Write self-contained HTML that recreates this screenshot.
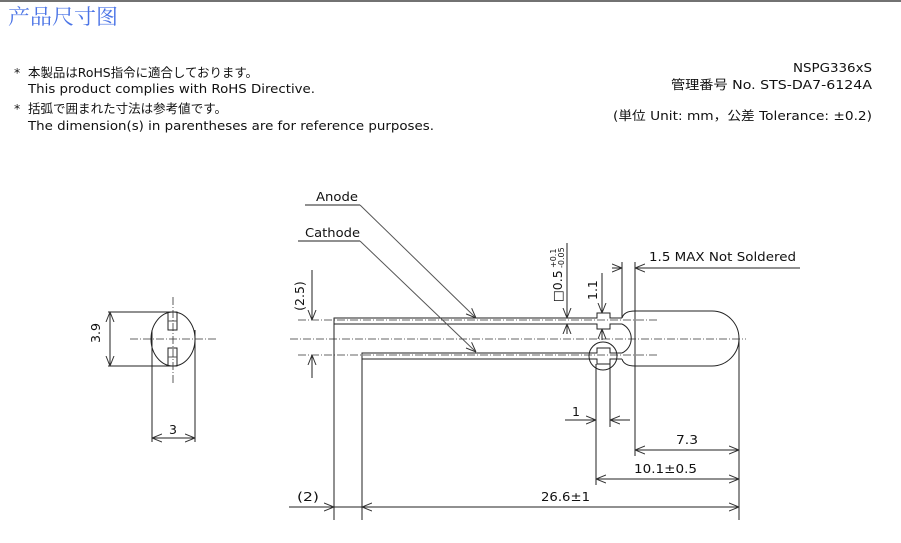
<!DOCTYPE html>
<html><head><meta charset="utf-8"><style>
html,body{margin:0;padding:0;background:#fff;}
svg{display:block;}
text{font-family:"DejaVu Sans","Noto Sans CJK JP",sans-serif;font-size:12.5px;fill:#111;}
.t{font-family:"Noto Serif CJK SC",serif;font-size:21px;fill:#4b74e6;}
.l{stroke:#222;stroke-width:1;fill:none;}
.g{stroke:#555;stroke-width:1;fill:none;}
.c{stroke:#333;stroke-width:0.8;fill:none;stroke-dasharray:8,2,1,2;}
</style></head><body>
<svg width="901" height="543" viewBox="0 0 901 543" xmlns="http://www.w3.org/2000/svg">
<defs>
<marker id="a" viewBox="0 0 10 10" refX="10" refY="5" markerWidth="10" markerHeight="10" orient="auto-start-reverse" markerUnits="userSpaceOnUse">
<path d="M0,1 L10,5 L0,9" fill="none" stroke="#333" stroke-width="1"/></marker>
</defs>
<line x1="0" y1="1" x2="901" y2="1" stroke="#444" stroke-width="1.5"/>
<text class="t" x="8" y="24" textLength="110" lengthAdjust="spacingAndGlyphs">产品尺寸图</text>
<text x="14" y="77">*</text><text x="28" y="77" textLength="230" lengthAdjust="spacingAndGlyphs">本製品はRoHS指令に適合しております。</text>
<text x="28" y="93" textLength="287" lengthAdjust="spacingAndGlyphs">This product complies with RoHS Directive.</text>
<text x="14" y="113">*</text><text x="28" y="113" textLength="199" lengthAdjust="spacingAndGlyphs">括弧で囲まれた寸法は参考値です。</text>
<text x="28" y="130" textLength="406" lengthAdjust="spacingAndGlyphs">The dimension(s) in parentheses are for reference purposes.</text>
<text x="793" y="72" textLength="79" lengthAdjust="spacingAndGlyphs">NSPG336xS</text>
<text x="671" y="89" textLength="201" lengthAdjust="spacingAndGlyphs">管理番号 No.   STS-DA7-6124A</text>
<text x="613" y="120" textLength="259" lengthAdjust="spacingAndGlyphs">(単位 Unit: mm，公差 Tolerance: ±0.2)</text>

<!-- left view -->
<ellipse class="l" cx="173" cy="339" rx="22" ry="27"/>
<rect class="l" x="168" y="312" width="9" height="18"/><line class="g" x1="168" y1="321" x2="177" y2="321"/>
<rect class="l" x="168" y="348" width="9" height="18"/><line class="g" x1="168" y1="357" x2="177" y2="357"/>
<line class="c" x1="173" y1="297" x2="173" y2="385"/>
<line class="c" x1="130" y1="339" x2="216" y2="339"/>
<line class="l" x1="108" y1="312" x2="173" y2="312"/>
<line class="l" x1="108" y1="366" x2="173" y2="366"/>
<line class="l" x1="110" y1="312" x2="110" y2="366" marker-start="url(#a)" marker-end="url(#a)"/>
<text x="106" y="339" transform="rotate(-90 100 339)" text-anchor="middle">3.9</text>
<line class="l" x1="152" y1="330" x2="152" y2="442"/>
<line class="l" x1="195" y1="330" x2="195" y2="442"/>
<line class="l" x1="152" y1="438" x2="195" y2="438" marker-start="url(#a)" marker-end="url(#a)"/>
<text x="173" y="434" text-anchor="middle">3</text>

<!-- side view -->
<line class="c" x1="290" y1="339" x2="746" y2="339"/>
<line class="c" x1="298" y1="320" x2="657" y2="320"/>
<line class="c" x1="298" y1="355" x2="657" y2="355"/>
<path class="l" d="M334,520 L334,318 L597,318 L597,313 L610,313 L610,318 L622,318 M334,324 L597,324 L597,329 L610,329 L610,324 L622,324"/>
<path class="l" d="M362,520 L362,353 L597,353 L597,348 L610,348 L610,353 L622,353 M362,359 L597,359 L597,364 L610,364 L610,359 L622,359"/>
<line class="l" x1="596" y1="364" x2="596" y2="485"/>
<line class="l" x1="610" y1="364" x2="610" y2="427"/>
<circle class="l" cx="603" cy="356" r="14"/>
<path class="l" d="M622,318 Q624,311 635,311 L712,311 A27,27.5 0 0 1 712,366 L635,366 Q624,366 622,359 M622,324 A16,16 0 0 1 622,353"/>
<line class="l" x1="635" y1="311" x2="635" y2="456"/>
<line class="l" x1="739" y1="339" x2="739" y2="520"/>
<line class="l" x1="622" y1="262" x2="622" y2="318"/>
<line class="l" x1="635" y1="262" x2="635" y2="311"/>
<line class="l" x1="612" y1="268" x2="622" y2="268" marker-end="url(#a)"/>
<line class="l" x1="800" y1="268" x2="635" y2="268" marker-end="url(#a)"/>
<text x="649" y="261" textLength="147" lengthAdjust="spacingAndGlyphs">1.5 MAX Not Soldered</text>
<line class="l" x1="567" y1="243" x2="567" y2="318" marker-end="url(#a)"/>
<line class="l" x1="567" y1="334" x2="567" y2="324" marker-end="url(#a)"/>
<text x="562" y="302" transform="rotate(-90 562 302)">□0.5</text>
<text x="556" y="268" transform="rotate(-90 556 268)" style="font-size:8px">+0.1</text>
<text x="564" y="268" transform="rotate(-90 564 268)" style="font-size:8px">-0.05</text>
<line class="l" x1="602" y1="273" x2="602" y2="313" marker-end="url(#a)"/>
<line class="l" x1="602" y1="340" x2="602" y2="329" marker-end="url(#a)"/>
<text x="597" y="300" transform="rotate(-90 597 300)">1.1</text>
<line class="l" x1="312" y1="270" x2="312" y2="320" marker-end="url(#a)"/>
<line class="l" x1="312" y1="378" x2="312" y2="355" marker-end="url(#a)"/>
<text x="304" y="296" transform="rotate(-90 304 296)" text-anchor="middle">(2.5)</text>
<line class="l" x1="565" y1="420" x2="596" y2="420" marker-end="url(#a)"/>
<line class="l" x1="630" y1="420" x2="610" y2="420" marker-end="url(#a)"/>
<text x="572" y="416">1</text>
<line class="l" x1="635" y1="450" x2="739" y2="450" marker-start="url(#a)" marker-end="url(#a)"/>
<text x="676" y="444" textLength="22" lengthAdjust="spacingAndGlyphs">7.3</text>
<line class="l" x1="596" y1="479" x2="739" y2="479" marker-start="url(#a)" marker-end="url(#a)"/>
<text x="634" y="473" textLength="63" lengthAdjust="spacingAndGlyphs">10.1±0.5</text>
<line class="l" x1="289" y1="507" x2="334" y2="507" marker-end="url(#a)"/>
<line class="l" x1="334" y1="507" x2="362" y2="507"/>
<line class="l" x1="362" y1="507" x2="739" y2="507" marker-start="url(#a)" marker-end="url(#a)"/>
<text x="297" y="501" textLength="22" lengthAdjust="spacingAndGlyphs">(2)</text>
<text x="541" y="501" textLength="49" lengthAdjust="spacingAndGlyphs">26.6±1</text>
<text x="316" y="201" textLength="42" lengthAdjust="spacingAndGlyphs">Anode</text>
<line class="l" x1="305" y1="205" x2="360" y2="205"/>
<line class="g" x1="360" y1="205" x2="476" y2="318" marker-end="url(#a)"/>
<text x="305" y="237" textLength="55" lengthAdjust="spacingAndGlyphs">Cathode</text>
<line class="l" x1="298" y1="241" x2="360" y2="241"/>
<line class="g" x1="360" y1="241" x2="476" y2="352" marker-end="url(#a)"/>
</svg>
</body></html>
